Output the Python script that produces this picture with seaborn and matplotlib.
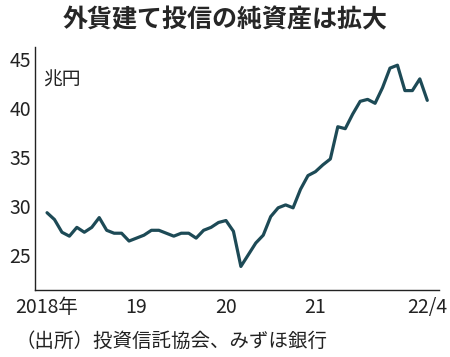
import pandas as pd
import matplotlib
matplotlib.use("Agg")
import matplotlib.pyplot as plt
import seaborn as sns

# ----------------------------------------------------------
# Data: 外貨建て投信の純資産 (兆円), monthly 2018/1 - 2022/4
# ----------------------------------------------------------

values = [
    29.3, 28.6, 27.3, 26.9, 27.8, 27.3, 27.8, 28.8, 27.5, 27.2, 27.2, 26.4,   # 2018
    26.7, 27.0, 27.5, 27.5, 27.2, 26.9, 27.2, 27.2, 26.7, 27.5, 27.8, 28.3,   # 2019
    28.5, 27.4, 23.8, 25.0, 26.2, 27.0, 28.9, 29.8, 30.1, 29.8, 31.7, 33.1,   # 2020
    33.5, 34.2, 34.8, 38.1, 37.9, 39.4, 40.7, 40.9, 40.5, 42.1, 44.1, 44.4,   # 2021
    41.8, 41.8, 43.0, 40.8,                                                   # 2022
]
months = list(range(len(values)))

tick_pos = [0, 12, 24, 36, 51]
tick_labels = ["2018年", "19", "20", "21", "22/4"]
y_ticks = [25, 30, 35, 40, 45]

df = pd.DataFrame({"month": months, "value": values})

# ----------------------------------------------------------
# Style
# ----------------------------------------------------------

sns.set_style("white")
plt.rcParams["font.family"] = ["Noto Sans CJK JP", "DejaVu Sans"]

fig = plt.figure(figsize=(4.5, 3.57), dpi=100)
ax = fig.add_axes([0.078, 0.188, 0.898, 0.68])

sns.lineplot(data=df, x="month", y="value", ax=ax,
             color="#1d4a56", linewidth=2.3)

ax.set_xlim(-1.6, 52.6)
ax.set_ylim(21.4, 46.25)

ax.set_xticks(tick_pos)
ax.set_xticklabels(tick_labels)
ax.set_yticks(y_ticks)
ax.set_xlabel("")
ax.set_ylabel("")

ax.tick_params(axis="both", direction="in", length=4, width=0.8,
               labelsize=14, colors="#222222", pad=3)
ax.tick_params(axis="x", pad=5)

for side in ["top", "right"]:
    ax.spines[side].set_visible(False)
for side in ["left", "bottom"]:
    ax.spines[side].set_color("#222222")
    ax.spines[side].set_linewidth(1.0)

ax.text(0.02, 0.84, "兆円", transform=ax.transAxes, fontsize=13.5,
        color="#222222")

fig.text(0.5, 0.945, "外貨建て投信の純資産は拡大", ha="center", va="center",
         fontsize=18, fontweight="bold")

fig.text(0.035, 0.045, "（出所）投資信託協会、みずほ銀行", ha="left", va="center",
         fontsize=14, color="#222222")

plt.savefig("out.png", dpi=100)
plt.close()
